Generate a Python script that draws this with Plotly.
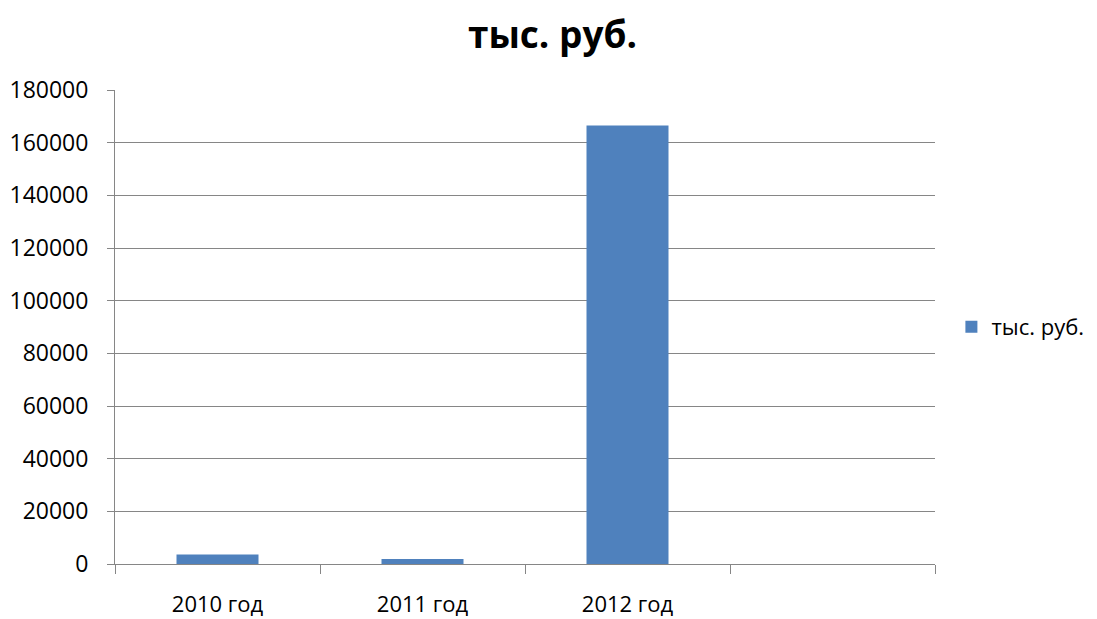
import plotly.graph_objects as go

categories = ["2010 год", "2011 год", "2012 год", " "]
values = [3600, 1900, 166500, None]
series_name = "тыс. руб."
title_text = "тыс. руб."
y_ticks = [0, 20000, 40000, 60000, 80000, 100000, 120000, 140000, 160000, 180000]

FONT = "Open Sans"
GRAY = "#868686"

# page body adds an 8px offset, so the figure is 8px smaller on each axis
fig = go.Figure()
fig.add_trace(go.Bar(
    x=categories, y=values, name=series_name,
    marker=dict(color="#4F81BD", line=dict(width=0)),
    showlegend=True,
))

fig.update_layout(
    width=1089, height=611,
    paper_bgcolor="white", plot_bgcolor="white",
    margin=dict(l=107, r=162, t=82, b=55, autoexpand=False),
    bargap=0.6,
    title=dict(text="<b>" + title_text + "</b>", x=0.5, xanchor="center",
               y=0.955, yanchor="middle",
               font=dict(family=FONT, size=37, color="black")),
    font=dict(family=FONT, size=22, color="#222222"),
    legend=dict(x=1.02, xanchor="left", y=0.5, yanchor="middle",
                font=dict(family=FONT, size=22, color="black"),
                itemwidth=30),
    xaxis=dict(
        type="category", categoryorder="array", categoryarray=categories,
        range=[-0.5, 3.5], automargin=False,
        showline=True, linecolor=GRAY, linewidth=1,
        ticks="outside", tickson="boundaries", ticklen=9, tickcolor=GRAY,
        showgrid=False,
        tickfont=dict(family=FONT, size=22, color="black"),
        ticklabelstandoff=21,
    ),
    yaxis=dict(
        range=[0, 180000], tickvals=y_ticks, automargin=False,
        ticktext=[str(v) for v in y_ticks],
        showline=True, linecolor=GRAY, linewidth=1,
        ticks="outside", ticklen=7, tickcolor=GRAY,
        showgrid=True, gridcolor=GRAY, gridwidth=1,
        zeroline=False,
        tickfont=dict(family=FONT, size=23, color="black"),
        ticklabelstandoff=14,
    ),
)

fig.write_html("out.html")
